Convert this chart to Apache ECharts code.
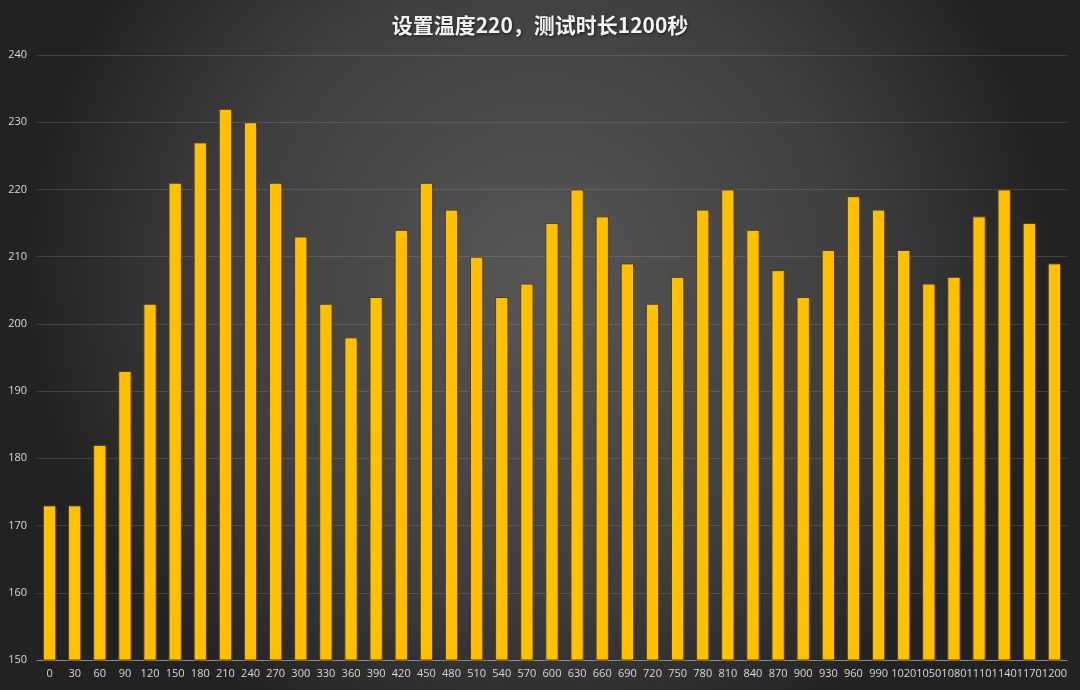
<!DOCTYPE html>
<html>
<head>
<meta charset="utf-8">
<script src="https://cdn.jsdelivr.net/npm/echarts@6/dist/echarts.min.js"></script>
<style>html,body{margin:0;padding:0;}#c{width:1080px;height:690px;}</style>
</head>
<body>
<div id="c"></div>
<script>
const titleText = '设置温度220，测试时长1200秒';
const categories = ['0','30','60','90','120','150','180','210','240','270','300','330','360','390','420','450','480','510','540','570','600','630','660','690','720','750','780','810','840','870','900','930','960','990','1020','1050','1080','1110','1140','1170','1200'];
const temps = [173,173,182,193,203,221,227,232,230,221,213,203,198,204,214,221,217,210,204,206,215,220,216,209,203,207,217,220,214,208,204,211,219,217,211,206,207,216,220,215,209];
const yMin = 150, yMax = 240, yStep = 10;

const chart = echarts.init(document.getElementById('c'));
chart.setOption({
  backgroundColor: {
    type: 'radial', x: 0.5, y: 0.4, r: 0.75,
    colorStops: [{offset: 0, color: '#575757'}, {offset: 0.6, color: '#3f3f3f'}, {offset: 1, color: '#222222'}]
  },
  animation: false,
  title: {
    text: titleText, left: 'center', top: 10,
    textStyle: {color: '#f2f2f2', fontSize: 21, fontWeight: 'bold', fontFamily: 'Noto Sans CJK SC',
      textShadowColor: 'rgba(0,0,0,0.6)', textShadowBlur: 3, textShadowOffsetX: 1, textShadowOffsetY: 1}
  },
  grid: {left: 37, right: 13, top: 55, bottom: 30, containLabel: false},
  xAxis: {
    type: 'category', data: categories,
    axisLine: {lineStyle: {color: '#8a8a8a', width: 1}},
    axisTick: {show: false},
    axisLabel: {interval: 0, color: '#d9d9d9', fontSize: 11, fontFamily: 'Open Sans', margin: 8}
  },
  yAxis: {
    type: 'value', min: yMin, max: yMax, interval: yStep,
    axisLine: {show: false}, axisTick: {show: false},
    axisLabel: {color: '#d9d9d9', fontSize: 11, fontFamily: 'Open Sans', margin: 10},
    splitLine: {lineStyle: {color: 'rgba(160,160,160,0.25)', width: 1}}
  },
  series: [{
    type: 'bar', data: temps, barWidth: '53%',
    itemStyle: {color: '#FFC000', borderColor: '#5c3d00', borderWidth: 1}
  }]
});
</script>
</body>
</html>
